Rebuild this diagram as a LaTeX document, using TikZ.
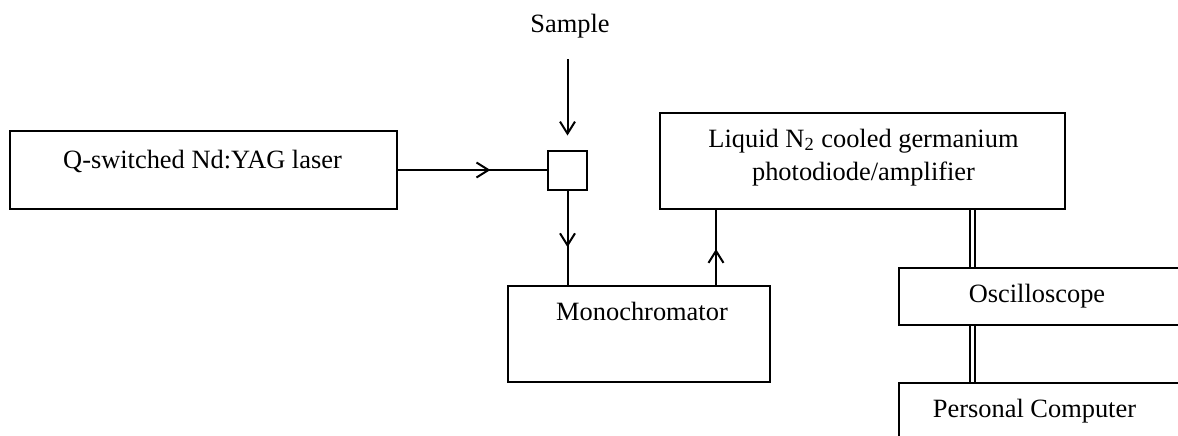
\documentclass[tikz,border=0pt]{standalone}
\usepackage{fontspec}
\setmainfont{Liberation Serif}
\usetikzlibrary{arrows.meta,decorations.markings}
\begin{document}
\begin{tikzpicture}[x=0.5pt,y=-0.5pt,
  box/.style={draw,line width=1pt,rectangle,inner sep=0pt},
  lbl/.style={anchor=base,inner sep=0pt,font=\fontsize{13.2}{16}\selectfont},
  conn/.style={line width=1pt},
  arr/.style={conn,-{Straight Barb[length=6pt,width=7.5pt]}},
  midarr/.style={conn,postaction={decorate},
    decoration={markings,mark=at position #1 with {\arrow{Straight Barb[length=6pt,width=7.5pt]}}}},
  dbl/.style={double,line width=0.9pt,double distance=1.6pt}]
\useasboundingbox (0,0) rectangle (1178,435);
\clip (0,0) rectangle (1178,435);
\fill[white] (0,0) rectangle (1178,435);
% boxes
\node[box,minimum width=193.5pt,minimum height=39pt] (laser) at (203.5,170) {};
\node[box,minimum width=19.5pt,minimum height=19.5pt] (sq) at (567.5,170) {};
\node[box,minimum width=131pt,minimum height=48pt] (mono) at (639,334) {};
\node[box,minimum width=202.5pt,minimum height=48pt] (photo) at (862.5,161) {};
\node[box,minimum width=150.5pt,minimum height=28.5pt] (osc) at (1049.5,296.5) {};
\node[box,minimum width=150.5pt,minimum height=38.5pt] (pc) at (1049.5,421.5) {};
% texts
\node[lbl] (sampletxt) at (570,32) {Sample};
\node[lbl] (lasertxt) at (202.5,168) {Q-switched Nd:YAG laser};
\node[lbl] (monotxt) at (642,320) {Monochromator};
\node[lbl] (phototxt1) at (863.5,147) {Liquid N\textsubscript{2} cooled germanium};
\node[lbl] (phototxt2) at (863.5,180) {photodiode/amplifier};
\node[lbl] (osctxt) at (1037,302) {Oscilloscope};
\node[lbl] (pctxt) at (1034.5,417) {Personal Computer};
% helper coordinates
\coordinate (s1) at (567.5,59);
\coordinate (mp) at (716,0);
\coordinate (dl) at (972.5,0);
% connectors
\draw[arr,shorten >=7pt] (sq.north |- s1) -- (sq.north);
\draw[midarr=0.62] (laser.east) -- (sq.west);
\draw[midarr=0.6] (sq.south) -- (sq.south |- mono.north);
\draw[midarr=0.48] (mono.north -| mp) -- (photo.south -| mp);
\draw[dbl] (photo.south -| dl) -- (osc.north -| dl);
\draw[dbl] (osc.south -| dl) -- (pc.north -| dl);
\end{tikzpicture}
\end{document}
